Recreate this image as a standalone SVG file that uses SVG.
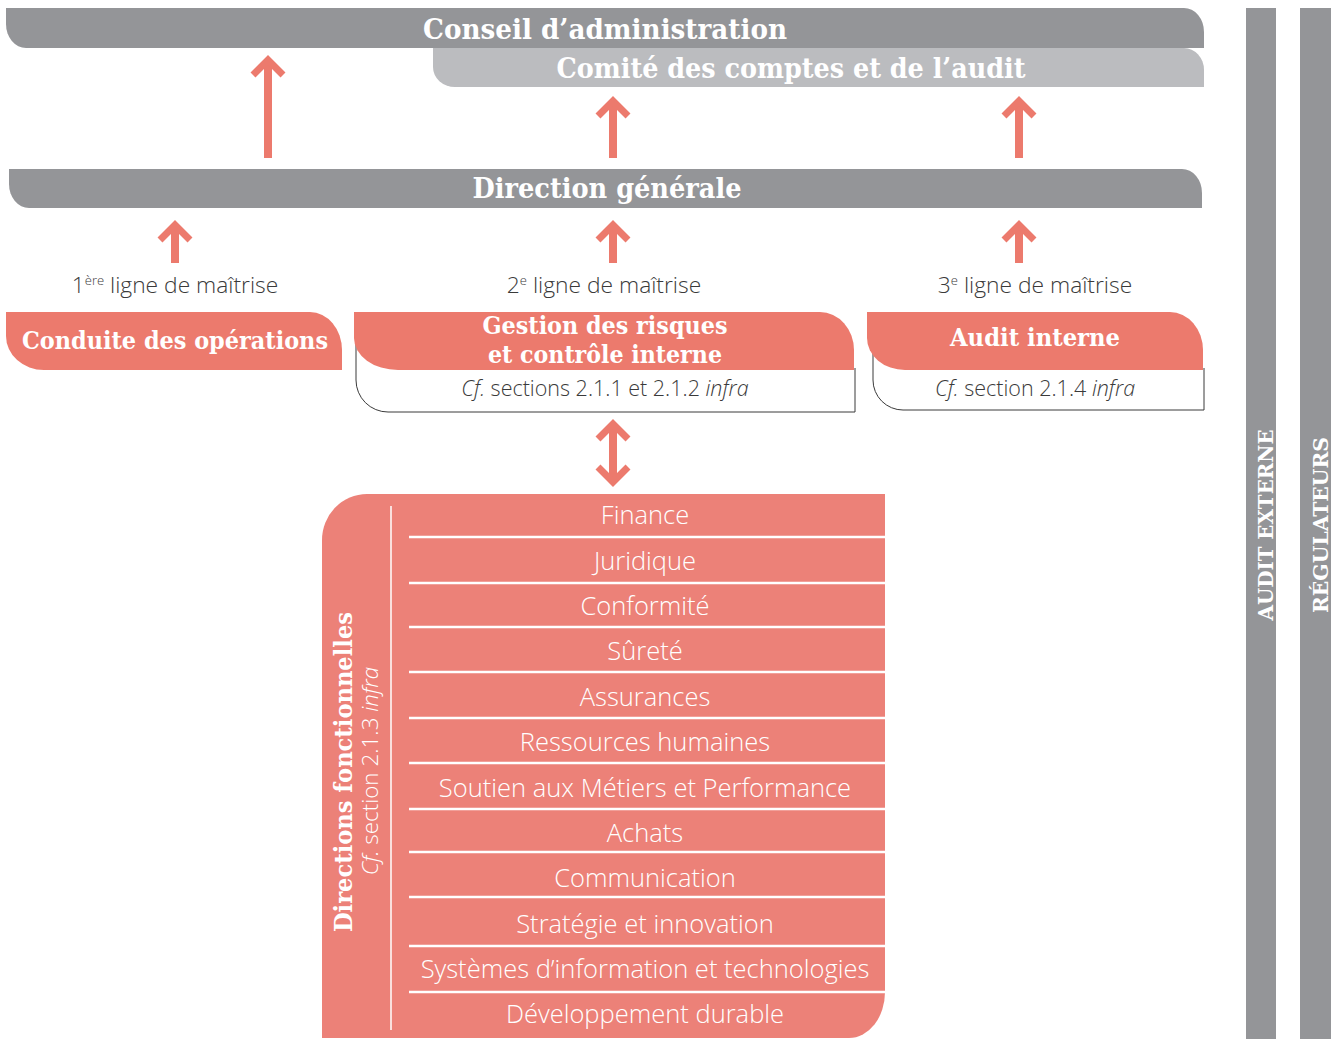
<svg xmlns="http://www.w3.org/2000/svg" width="1331" height="1039" viewBox="0 0 1331 1039">
<style>
.gray{fill:#949598}
.lgray{fill:#bbbcbf}
.red{fill:#ec7a6d}
.fred{fill:#ec8178}
.outline{fill:#fff;stroke:#3a3a3a;stroke-width:1}
.shaft{stroke:#ec7a6d;stroke-width:8;fill:none}
.head{stroke:#ec7a6d;stroke-width:7;fill:none;stroke-linejoin:miter;stroke-miterlimit:10}
.slab{font-family:'DejaVu Serif Condensed','DejaVu Serif',serif;font-weight:bold;font-stretch:condensed;fill:#fff;text-anchor:middle}
.lbl{font-family:'Open Sans','Noto Sans',sans-serif;font-weight:300;font-size:22.8px;fill:#3a3a3a;text-anchor:middle}
.cf{font-family:'Open Sans','Noto Sans',sans-serif;font-weight:300;font-size:21.5px;fill:#3a3a3a;text-anchor:middle}
.row{font-family:'Open Sans','Noto Sans',sans-serif;font-weight:300;font-size:25.5px;fill:#fff;text-anchor:middle}
.vcf{font-family:'Open Sans','Noto Sans',sans-serif;font-weight:300;font-size:22.4px;fill:#fff;text-anchor:middle}
.sup{font-size:13px}
.sep{stroke:#fff;stroke-width:2.5}
.it{font-style:italic}
</style>

<g id="conseil">
<path class="gray" d="M6,8 H1184 A20,24 0 0 1 1204,32 V48 H26 A20,24 0 0 1 6,24 Z"/>
<text class="slab" x="605" y="39" font-size="27" textLength="364" lengthAdjust="spacingAndGlyphs">Conseil d’administration</text>
</g>

<g id="comite">
<path class="lgray" d="M433,48 H1184 A20,22 0 0 1 1204,70 V87 H455 A22,20 0 0 1 433,67 Z"/>
<text class="slab" x="791" y="78" font-size="27" textLength="469" lengthAdjust="spacingAndGlyphs">Comité des comptes et de l’audit</text>
</g>

<g id="direction">
<path class="gray" d="M9,169 H1182 A20,24 0 0 1 1202,193 V208 H29 A20,24 0 0 1 9,184 Z"/>
<text class="slab" x="607" y="198" font-size="27" textLength="269" lengthAdjust="spacingAndGlyphs">Direction générale</text>
</g>

<g id="connectors">
<line class="shaft" x1="268" y1="62" x2="268" y2="158"/>
<path class="head" d="M253,75 L268,60 L283,75"/>
<line class="shaft" x1="613" y1="103" x2="613" y2="158"/>
<path class="head" d="M598,116 L613,101 L628,116"/>
<line class="shaft" x1="1019" y1="103" x2="1019" y2="158"/>
<path class="head" d="M1004,116 L1019,101 L1034,116"/>
<line class="shaft" x1="175" y1="227" x2="175" y2="263"/>
<path class="head" d="M160,240 L175,225 L190,240"/>
<line class="shaft" x1="613" y1="227" x2="613" y2="263"/>
<path class="head" d="M598,240 L613,225 L628,240"/>
<line class="shaft" x1="1019" y1="227" x2="1019" y2="263"/>
<path class="head" d="M1004,240 L1019,225 L1034,240"/>
<line class="shaft" x1="613" y1="426" x2="613" y2="480"/>
<path class="head" d="M598,439 L613,424 L628,439"/>
<path class="head" d="M598,467 L613,482 L628,467"/>
</g>

<g id="labels">
<text class="lbl" x="175" y="293">1<tspan class="sup" dy="-8">ère</tspan><tspan dy="8"> ligne de maîtrise</tspan></text>
<text class="lbl" x="604" y="293">2<tspan class="sup" dy="-8">e</tspan><tspan dy="8"> ligne de maîtrise</tspan></text>
<text class="lbl" x="1035" y="293">3<tspan class="sup" dy="-8">e</tspan><tspan dy="8"> ligne de maîtrise</tspan></text>
</g>

<g id="conduite">
<path class="red" d="M6,312 H310 A32,38 0 0 1 342,350 V370 H44 A38,34 0 0 1 6,336 Z"/>
<text class="slab" x="175" y="349" font-size="25" textLength="306" lengthAdjust="spacingAndGlyphs">Conduite des opérations</text>
</g>

<g id="gestion">
<path class="outline" d="M356,340 V380 A32,32 0 0 0 388,412 H855 V368"/>
<path class="red" d="M354,312 H820 A34,38 0 0 1 854,350 V370 H398 A44,32 0 0 1 354,338 Z"/>
<text class="slab" x="605" y="334" font-size="25" textLength="245" lengthAdjust="spacingAndGlyphs">Gestion des risques</text>
<text class="slab" x="605" y="363" font-size="25" textLength="234" lengthAdjust="spacingAndGlyphs">et contrôle interne</text>
<text class="cf" x="605" y="396"><tspan class="it">Cf.</tspan> sections 2.1.1 et 2.1.2 <tspan class="it">infra</tspan></text>
</g>

<g id="audit-interne">
<path class="outline" d="M873,345 V380 A30,30 0 0 0 903,410 H1204 V368"/>
<path class="red" d="M867,312 H1170 A33,38 0 0 1 1203,350 V370 H905 A38,32 0 0 1 867,338 Z"/>
<text class="slab" x="1035" y="346" font-size="25" textLength="170" lengthAdjust="spacingAndGlyphs">Audit interne</text>
<text class="cf" x="1035" y="396"><tspan class="it">Cf.</tspan> section 2.1.4 <tspan class="it">infra</tspan></text>
</g>

<g id="directions-fonctionnelles">
<path class="fred" d="M322,540 A45,46 0 0 1 367,494 H885 V992 A36,46 0 0 1 849,1038 H322 Z"/>
<line x1="391" y1="506" x2="391" y2="1030" stroke="#fff" stroke-width="1.5"/>
<text class="slab" transform="translate(352,772) rotate(-90)" font-size="25" textLength="320" lengthAdjust="spacingAndGlyphs">Directions fonctionnelles</text>
<text class="vcf" transform="translate(378,771) rotate(-90)"><tspan class="it">Cf.</tspan> section 2.1.3 <tspan class="it">infra</tspan></text>
<g>
<line class="sep" x1="409" y1="537" x2="885" y2="537"/>
<line class="sep" x1="409" y1="583" x2="885" y2="583"/>
<line class="sep" x1="409" y1="627" x2="885" y2="627"/>
<line class="sep" x1="409" y1="672" x2="885" y2="672"/>
<line class="sep" x1="409" y1="718" x2="885" y2="718"/>
<line class="sep" x1="409" y1="763" x2="885" y2="763"/>
<line class="sep" x1="409" y1="809" x2="885" y2="809"/>
<line class="sep" x1="409" y1="852" x2="885" y2="852"/>
<line class="sep" x1="409" y1="897" x2="885" y2="897"/>
<line class="sep" x1="409" y1="946" x2="885" y2="946"/>
<line class="sep" x1="409" y1="992" x2="885" y2="992"/>
</g>
<text class="row" x="645" y="524">Finance</text>
<text class="row" x="645" y="570">Juridique</text>
<text class="row" x="645" y="615">Conformité</text>
<text class="row" x="645" y="660">Sûreté</text>
<text class="row" x="645" y="706">Assurances</text>
<text class="row" x="645" y="751">Ressources humaines</text>
<text class="row" x="645" y="797">Soutien aux Métiers et Performance</text>
<text class="row" x="645" y="842">Achats</text>
<text class="row" x="645" y="887">Communication</text>
<text class="row" x="645" y="933">Stratégie et innovation</text>
<text class="row" x="645" y="978">Systèmes d’information et technologies</text>
<text class="row" x="645" y="1023">Développement durable</text>
</g>

<g id="audit-externe">
<rect class="gray" x="1246" y="8" width="30" height="1031"/>
<text class="slab" transform="translate(1273,525) rotate(-90)" font-size="20" textLength="191" lengthAdjust="spacingAndGlyphs">AUDIT EXTERNE</text>
</g>

<g id="regulateurs">
<rect class="gray" x="1300" y="8" width="31" height="1031"/>
<text class="slab" transform="translate(1328,525) rotate(-90)" font-size="20" textLength="176" lengthAdjust="spacingAndGlyphs">RÉGULATEURS</text>
</g>
</svg>
